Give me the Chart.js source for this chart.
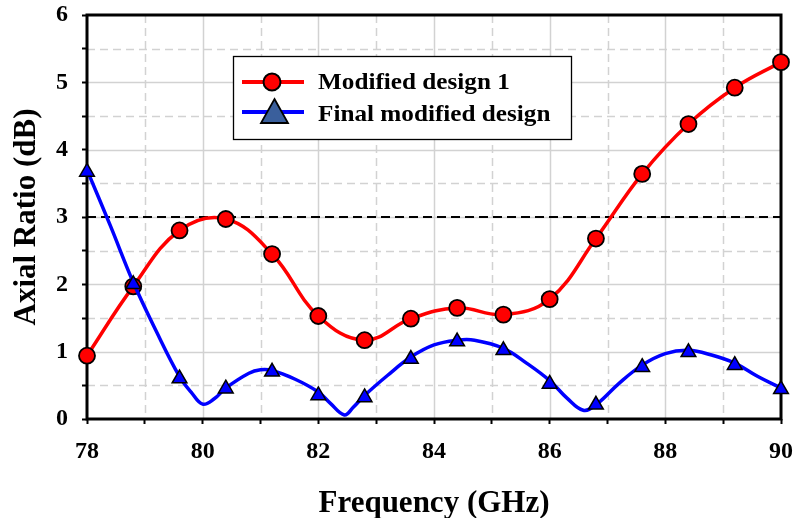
<!DOCTYPE html>
<html>
<head>
<meta charset="utf-8">
<script src="https://cdn.jsdelivr.net/npm/chart.js@4.4.1/dist/chart.umd.min.js"></script>
<style>
  html, body { margin: 0; padding: 0; background: #fff; }
  #wrap { width: 796px; height: 518px; }
</style>
</head>
<body>
<div id="wrap"><canvas id="myChart"></canvas></div>
<script>
// values
const freqMarkers = [78, 78.8, 79.6, 80.4, 81.2, 82, 82.8, 83.6, 84.4, 85.2, 86, 86.8, 87.6, 88.4, 89.2, 90];
const design1Values = [0.94, 1.97, 2.80, 2.97, 2.45, 1.53, 1.17, 1.49, 1.65, 1.55, 1.78, 2.68, 3.64, 4.38, 4.92, 5.30];
const finalMarkerValues = [3.67, 2.00, 0.60, 0.45, 0.70, 0.35, 0.32, 0.89, 1.15, 1.02, 0.52, 0.21, 0.77, 0.99, 0.80, 0.44];

// the blue curve dips between markers, so it has its own points
const finalCurveFreq = [78, 78.4, 78.8, 79.2, 79.6, 79.8, 80, 80.2, 80.4, 80.8, 81, 81.2, 81.6, 82, 82.2, 82.45, 82.6, 82.8,
  83.2, 83.6, 84, 84.4, 84.7, 85.2, 85.6, 86, 86.3, 86.58, 86.8, 87.2, 87.6, 88, 88.4, 88.8, 89.2, 89.6, 90];
const finalCurveValues = [3.70, 2.88, 2.03, 1.30, 0.63, 0.40, 0.22, 0.30, 0.46, 0.68, 0.73, 0.72, 0.59, 0.40, 0.24, 0.06, 0.17, 0.35,
  0.65, 0.92, 1.10, 1.17, 1.17, 1.05, 0.83, 0.57, 0.31, 0.13, 0.21, 0.53, 0.80, 0.97, 1.02, 0.95, 0.83, 0.63, 0.46];

const limitFreq = [78, 90];
const limitValues = [3, 3];

const xLabelTicks = [78, 80, 82, 84, 86, 88, 90];
const yLabelTicks = [0, 1, 2, 3, 4, 5, 6];
const seriesNames = ['Modified design 1', 'Final modified design'];

const RED = '#ff0000';
const BLUE = '#0000ff';
const serif = "'Liberation Serif', 'Times New Roman', serif";

const toPoints = (xs, ys) => xs.map((x, i) => ({ x: x, y: ys[i] }));

const gridAndFrame = {
  id: 'gridAndFrame',
  beforeDatasetsDraw(chart) {
    const { ctx, chartArea: a, scales: { x, y } } = chart;
    ctx.save();
    ctx.strokeStyle = '#d2d2d2';
    ctx.lineWidth = 1.5;
    for (let f = 79; f < 90; f++) {
      const px = Math.round(x.getPixelForValue(f)) + 0.5;
      ctx.setLineDash(f % 2 === 0 ? [] : [8, 5]);
      ctx.beginPath();
      ctx.moveTo(px, a.top);
      ctx.lineTo(px, a.bottom);
      ctx.stroke();
    }
    for (let v = 0.5; v < 6; v += 0.5) {
      const py = Math.round(y.getPixelForValue(v)) + 0.5;
      ctx.setLineDash(v % 1 === 0 ? [] : [8, 5]);
      ctx.beginPath();
      ctx.moveTo(a.left, py);
      ctx.lineTo(a.right, py);
      ctx.stroke();
    }
    ctx.setLineDash([]);
    ctx.strokeStyle = '#000';
    ctx.lineWidth = 3;
    ctx.strokeRect(a.left, a.top, a.right - a.left, a.bottom - a.top);
    ctx.restore();
  }
};

// legend text in the picture is a bit wider than plain Times, so stretch it
const drawWideText = (ctx, text, x, y) => {
  ctx.save();
  ctx.translate(x, y);
  ctx.scale(1.12, 1);
  ctx.fillText(text, 0, 0);
  ctx.restore();
};

const legendBox = {
  id: 'legendBox',
  afterDraw(chart) {
    const ctx = chart.ctx;
    ctx.save();
    ctx.fillStyle = '#fff';
    ctx.fillRect(233, 56, 338, 83);
    ctx.strokeStyle = '#000';
    ctx.lineWidth = 1.3;
    ctx.strokeRect(233.5, 56.5, 338, 83);

    // row 1
    ctx.strokeStyle = RED;
    ctx.lineWidth = 4;
    ctx.beginPath();
    ctx.moveTo(242, 82);
    ctx.lineTo(304, 82);
    ctx.stroke();
    ctx.beginPath();
    ctx.arc(272, 82, 8.5, 0, Math.PI * 2);
    ctx.fillStyle = RED;
    ctx.fill();
    ctx.strokeStyle = '#000';
    ctx.lineWidth = 2;
    ctx.stroke();

    // row 2
    ctx.strokeStyle = BLUE;
    ctx.lineWidth = 4;
    ctx.beginPath();
    ctx.moveTo(242, 112);
    ctx.lineTo(304, 112);
    ctx.stroke();
    ctx.beginPath();
    ctx.moveTo(274.5, 99);
    ctx.lineTo(288, 123);
    ctx.lineTo(261, 123);
    ctx.closePath();
    ctx.fillStyle = '#3a5f9c';
    ctx.fill();
    ctx.strokeStyle = '#000';
    ctx.lineWidth = 1.8;
    ctx.stroke();

    ctx.fillStyle = '#000';
    ctx.font = 'bold 22.5px ' + serif;
    ctx.textBaseline = 'alphabetic';
    drawWideText(ctx, chart.data.datasets[0].label, 318, 89);
    drawWideText(ctx, chart.data.datasets[1].label, 318, 121);
    ctx.restore();
  }
};

const ctx = document.getElementById('myChart').getContext('2d');
const myChart = new Chart(ctx, {
  type: 'line',
  data: {
    datasets: [
      {
        label: seriesNames[0],
        data: toPoints(freqMarkers, design1Values),
        borderColor: RED,
        borderWidth: 3.5,
        tension: 0.4,
        pointRadius: 8,
        pointBackgroundColor: RED,
        pointBorderColor: '#000',
        pointBorderWidth: 1.8,
        clip: false,
        order: 2
      },
      {
        label: seriesNames[1],
        data: toPoints(freqMarkers, finalMarkerValues),
        showLine: false,
        pointStyle: 'triangle',
        pointRadius: 8.5,
        pointBackgroundColor: BLUE,
        pointBorderColor: '#000',
        pointBorderWidth: 1.5,
        clip: false,
        order: 0
      },
      {
        label: 'curve',
        data: toPoints(finalCurveFreq, finalCurveValues),
        borderColor: BLUE,
        borderWidth: 3.5,
        tension: 0.4,
        pointRadius: 0,
        clip: false,
        order: 1
      },
      {
        label: '3 dB',
        data: toPoints(limitFreq, limitValues),
        borderColor: '#000',
        borderWidth: 1.8,
        borderDash: [9, 5],
        pointRadius: 0,
        order: 3
      }
    ]
  },
  options: {
    responsive: true,
    maintainAspectRatio: false,
    animation: false,
    layout: { padding: { left: 0, right: 15, top: 15, bottom: 0 } },
    plugins: {
      legend: { display: false },
      tooltip: { enabled: false }
    },
    scales: {
      x: {
        type: 'linear',
        min: 78,
        max: 90,
        afterFit: function (scale) {
          scale.height = 99;
          scale.paddingLeft = 0;
          scale.paddingRight = 0;
        },
        border: { display: false },
        grid: { drawOnChartArea: false, drawTicks: true, tickLength: 5, tickColor: '#000', tickWidth: 2 },
        ticks: {
          stepSize: 1,
          autoSkip: false,
          maxRotation: 0,
          padding: 13,
          color: '#000',
          font: { family: serif, size: 24, weight: 'bold' },
          callback: (v) => xLabelTicks.includes(v) ? String(v) : ''
        },
        title: {
          display: true,
          text: 'Frequency (GHz)',
          color: '#000',
          font: { family: serif, size: 31, weight: 'bold', lineHeight: 1 },
          padding: { top: 0, bottom: -1 }
        }
      },
      y: {
        min: 0,
        max: 6,
        afterFit: function (scale) {
          scale.width = 87;
          scale.paddingTop = 0;
          scale.paddingBottom = 0;
        },
        border: { display: false },
        grid: { drawOnChartArea: false, drawTicks: true, tickLength: 5, tickColor: '#000', tickWidth: 2 },
        ticks: {
          stepSize: 0.5,
          autoSkip: false,
          padding: 14,
          color: '#000',
          font: { family: serif, size: 24, weight: 'bold' },
          callback: (v) => yLabelTicks.includes(v) ? String(v) : ''
        },
        title: {
          display: true,
          text: 'Axial Ratio (dB)',
          color: '#000',
          font: { family: serif, size: 31, weight: 'bold', lineHeight: 1 },
          padding: { top: 11, bottom: 0 }
        }
      }
    }
  },
  plugins: [gridAndFrame, legendBox]
});
</script>
</body>
</html>
